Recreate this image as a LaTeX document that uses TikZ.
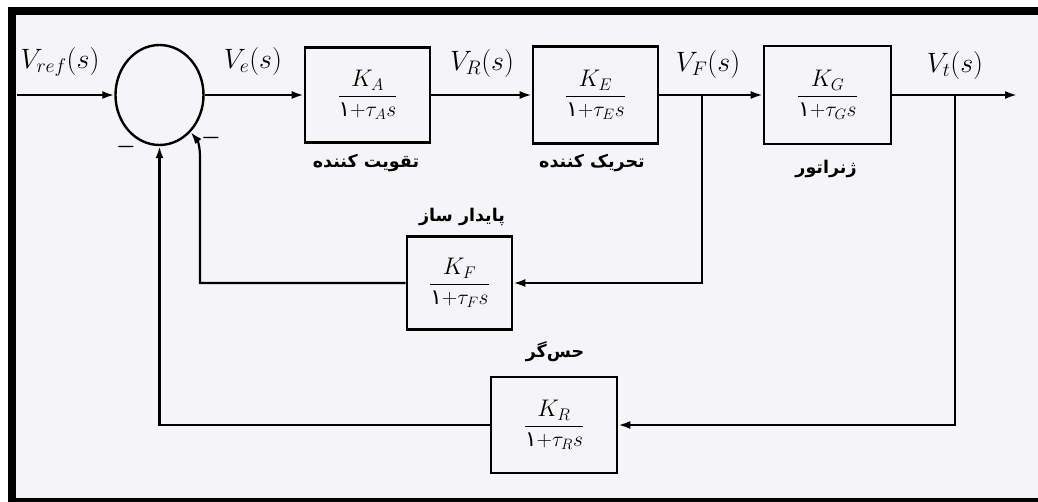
\RequirePackage{fix-cm}
\documentclass[tikz,border=0pt]{standalone}
\usepackage{fontspec}
\usetikzlibrary{arrows.meta,shapes.geometric}
\newfontfamily\persian[Script=Arabic]{DejaVu Sans}
\TeXXeTstate=1
\definecolor{paper}{RGB}{245,245,247}
\newcommand{\pone}{\mbox{\persian ۱}}
\newcommand{\blockfrac}[1]{$\displaystyle\frac{\mbox{\fontsize{24}{26}\selectfont$K_{#1}$}}{\mbox{\fontsize{21.5}{24}\selectfont$\pone{+}\tau_{#1}s$}}$}
\begin{document}
\begin{tikzpicture}[x=1pt,y=1pt,
  blk/.style={draw,line width=2.6pt,inner sep=0pt,font=\fontsize{22}{24}\selectfont},
  sum/.style={ellipse,draw,line width=2.4pt,minimum width=88pt,minimum height=100pt,inner sep=0pt},
  conn/.style={line width=2.2pt,-{Latex[length=12pt,width=8pt]}},
  sig/.style={font=\fontsize{28}{30}\selectfont,inner sep=0pt},
  plab/.style={font=\fontsize{17.5}{20}\selectfont\persian\bfseries,inner sep=0pt},
  minus/.style={font=\fontsize{22}{24}\selectfont\boldmath,inner sep=0pt}
]
\useasboundingbox (0,0) rectangle (1038,-501);
\fill[paper] (15,-15) rectangle (1038,-498);
\draw[line width=8pt] (11.5,-11) rectangle (1046,-502);

% blocks
\node[sum] (S) at (159.5,-95) {};
\node[blk,minimum width=125pt,minimum height=95pt] (A) at (367.5,-95) {\blockfrac{A}};
\node[blk,minimum width=125pt,minimum height=97pt] (E) at (595.5,-95) {\blockfrac{E}};
\node[blk,minimum width=127pt,minimum height=98pt] (G) at (827.5,-95) {\blockfrac{G}};
\node[blk,minimum width=105pt,minimum height=93pt] (F) at (459.5,-283) {\blockfrac{F}};
\node[blk,minimum width=126pt,minimum height=96pt] (R) at (554,-425) {\blockfrac{R}};

% signal labels
\node[sig] (lref) at (60,-62) {$V_{ref}(s)$};
\node[sig] (le) at (253,-61) {$V_e(s)$};
\node[sig] (lR) at (482,-63) {$V_R(s)$};
\node[sig] (lF) at (708,-64) {$V_F(s)$};
\node[sig] (lt) at (955,-65) {$V_t(s)$};

% persian labels
\node[plab] (tA) at (366,-163) {\beginR تقویت کننده\endR};
\node[plab] (tE) at (592,-163) {\beginR تحریک کننده\endR};
\node[plab] (tG) at (826,-169) {\beginR ژنراتور\endR};
\node[plab] (tF) at (462,-217) {\beginR پایدار ساز\endR};
\node[plab] (tR) at (555,-352) {\beginR حس‌گر\endR};

% minus signs
\node[minus] (m1) at (126,-147) {$-$};
\node[minus] (m2) at (211,-138) {$-$};

% points
\coordinate (in) at (17,-95);
\coordinate (out) at (1017,-95);
\coordinate (bF) at (702,-95);
\coordinate (bt) at (955,-95);
\coordinate (fF) at (702,-283);
\coordinate (fL) at (200,-283);
\coordinate (fT) at (200,-158);
\coordinate (rR) at (955,-425);
\coordinate (rL) at (159.5,-425);

% connectors
\draw[conn] (in) -- (S.west);
\draw[conn] (S.east) -- (A.west);
\draw[conn] (A.east) -- (E.west);
\draw[conn] (E.east) -- (G.west);
\draw[conn] (G.east) -- (out);
\draw[conn] (bF) -- (fF) -- (F.east);
\draw[conn] (F.west) -- (fL) -- (fT) .. controls (200,-147) and (198,-141) .. (S.-50);
\draw[conn] (bt) -- (rR) -- (R.east);
\draw[conn] (R.west) -- (rL) -- (S.south);
\end{tikzpicture}
\end{document}
